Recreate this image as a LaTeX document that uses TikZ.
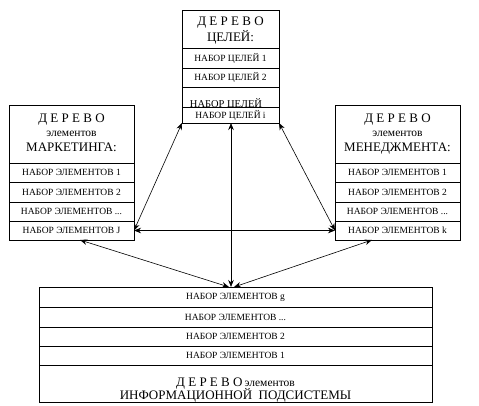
\documentclass[tikz,border=0pt]{standalone}
\usepackage{fontspec}
\setmainfont{Liberation Serif}
\usetikzlibrary{arrows.meta}
\begin{document}
\begin{tikzpicture}[x=1pt,y=-1pt,
 cell/.style={draw, line width=0.8pt, fill=white, anchor=north west, inner sep=0pt, outer sep=0pt, font=\fontsize{9.5}{11}\selectfont},
 rowtxt/.style={font=\fontsize{9.5}{11}\selectfont, inner sep=0pt},
 bigtxt/.style={font=\fontsize{13}{15}\selectfont, anchor=base, inner sep=0pt},
 smalltxt/.style={font=\fontsize{11.5}{13}\selectfont, anchor=base, inner sep=0pt},
 arr/.style={line width=0.6pt, {Stealth[length=7pt,width=5.5pt]}-{Stealth[length=7pt,width=5.5pt]}}]
\useasboundingbox (0,0) rectangle (479,406);
% top box: goals
\node[cell, minimum width=97pt, minimum height=38pt] (tH) at (182,10) {};
\node[bigtxt] (tH1) at (230.5,26) {Д Е Р Е В О};
\node[bigtxt] (tH2) at (230.5,42) {ЦЕЛЕЙ:};
\node[cell, minimum width=97pt, minimum height=20pt] (tR1) at (182,48) {НАБОР ЦЕЛЕЙ 1};
\node[cell, minimum width=97pt, minimum height=19pt] (tR2) at (182,68) {НАБОР ЦЕЛЕЙ 2};
\node[cell, minimum width=97pt, minimum height=20pt] (tR3) at (182,87) {};
\node[rowtxt, anchor=base, font=\fontsize{10.5}{12}\selectfont] (tR3t) at (226,108) {НАБОР ЦЕЛЕЙ};
\node[cell, minimum width=97pt, minimum height=16pt] (tR4) at (182,107) {НАБОР ЦЕЛЕЙ i};
% left box: marketing
\node[cell, minimum width=125pt, minimum height=58pt] (lH) at (9,105) {};
\node[bigtxt] (lH1) at (71.5,123) {Д Е Р Е В О};
\node[smalltxt] (lH2) at (71.5,137) {элементов};
\node[bigtxt] (lH3) at (71.5,152) {МАРКЕТИНГА:};
\node[cell, minimum width=125pt, minimum height=19pt] (lR1) at (9,163) {НАБОР ЭЛЕМЕНТОВ 1};
\node[cell, minimum width=125pt, minimum height=20pt] (lR2) at (9,182) {НАБОР ЭЛЕМЕНТОВ 2};
\node[cell, minimum width=125pt, minimum height=19pt] (lR3) at (9,202) {НАБОР ЭЛЕМЕНТОВ ...};
\node[cell, minimum width=125pt, minimum height=19pt] (lR4) at (9,221) {НАБОР ЭЛЕМЕНТОВ J};
% right box: management
\node[cell, minimum width=125pt, minimum height=58pt] (rH) at (335,105) {};
\node[bigtxt] (rH1) at (397.5,123) {Д Е Р Е В О};
\node[smalltxt] (rH2) at (397.5,137) {элементов};
\node[bigtxt] (rH3) at (397.5,152) {МЕНЕДЖМЕНТА:};
\node[cell, minimum width=125pt, minimum height=19pt] (rR1) at (335,163) {НАБОР ЭЛЕМЕНТОВ 1};
\node[cell, minimum width=125pt, minimum height=20pt] (rR2) at (335,182) {НАБОР ЭЛЕМЕНТОВ 2};
\node[cell, minimum width=125pt, minimum height=19pt] (rR3) at (335,202) {НАБОР ЭЛЕМЕНТОВ ...};
\node[cell, minimum width=125pt, minimum height=19pt] (rR4) at (335,221) {НАБОР ЭЛЕМЕНТОВ k};
% bottom box: information subsystem
\node[cell, minimum width=393pt, minimum height=20pt] (bR1) at (39,287) {НАБОР ЭЛЕМЕНТОВ g};
\node[cell, minimum width=393pt, minimum height=20pt] (bR2) at (39,307) {НАБОР ЭЛЕМЕНТОВ ...};
\node[cell, minimum width=393pt, minimum height=19pt] (bR3) at (39,327) {НАБОР ЭЛЕМЕНТОВ 2};
\node[cell, minimum width=393pt, minimum height=19pt] (bR4) at (39,346) {НАБОР ЭЛЕМЕНТОВ 1};
\node[cell, minimum width=393pt, minimum height=37pt] (bH) at (39,365) {};
\node[bigtxt] (bH1) at (235.5,386) {Д Е Р Е В О\,{\fontsize{11.5}{13}\selectfont элементов}};
\node[bigtxt] (bH2) at (235.5,399) {ИНФОРМАЦИОННОЙ\ \ ПОДСИСТЕМЫ};
% connectors
\coordinate (lb) at (80,240);
\coordinate (rb) at (372,240);
\coordinate (bl) at (229,287);
\coordinate (br) at (234,287);
\draw[arr] (tR4.south -| 231,0) -- (bR1.north -| 231,0);
\draw[arr] (lR4.east) -- (rR4.west);
\draw[arr] (tR4.south west) -- (lR4.east);
\draw[arr] (tR4.south east) -- (rR4.west);
\draw[arr] (lb) -- (bl);
\draw[arr] (rb) -- (br);
\end{tikzpicture}
\end{document}
